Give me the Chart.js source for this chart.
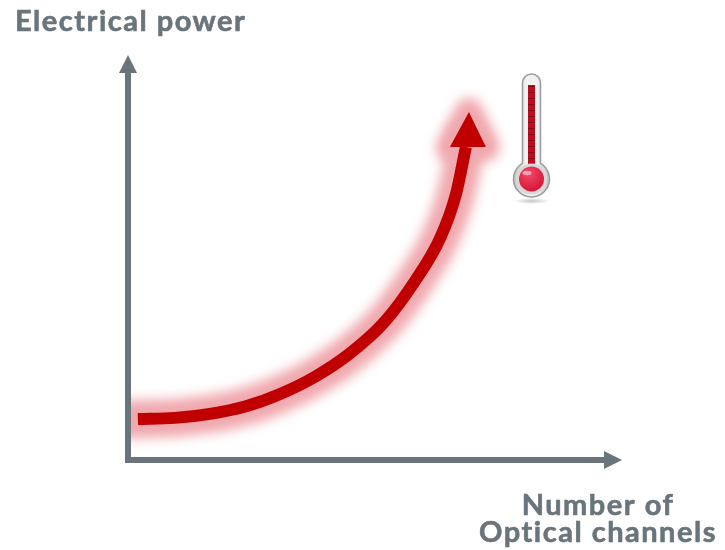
<!DOCTYPE html>
<html>
<head>
<meta charset="utf-8">
<title>Electrical power vs optical channels</title>
<script src="https://cdn.jsdelivr.net/npm/chart.js@4"></script>
<style>
  html, body { margin: 0; padding: 0; background: #fff; }
  #wrap { position: relative; width: 725px; height: 550px; }
  #powerChart { display: block; }
  #thermo { position: absolute; left: 505px; top: 68px; }
</style>
</head>
<body>
<div id="wrap">
  <canvas id="powerChart" width="725" height="550"></canvas>
  <!-- thermometer icon, decoration only -->
  <svg id="thermo" width="52" height="140" viewBox="0 0 52 140">
    <defs>
      <linearGradient id="glass" x1="0" x2="1" y1="0" y2="0">
        <stop offset="0" stop-color="#c4c4c4"/>
        <stop offset="0.35" stop-color="#f2f2f2"/>
        <stop offset="0.65" stop-color="#f2f2f2"/>
        <stop offset="1" stop-color="#c0c0c0"/>
      </linearGradient>
      <radialGradient id="bulb" cx="0.4" cy="0.3" r="0.8">
        <stop offset="0" stop-color="#f4476a"/>
        <stop offset="1" stop-color="#d0102e"/>
      </radialGradient>
      <radialGradient id="shade">
        <stop offset="0" stop-color="#c4c4c4"/>
        <stop offset="1" stop-color="#ffffff"/>
      </radialGradient>
      <pattern id="marks" width="7" height="6" patternUnits="userSpaceOnUse">
        <rect width="7" height="6" fill="#c00d1e"/>
        <rect width="7" height="1" fill="#8c0a16"/>
      </pattern>
    </defs>
    <ellipse cx="26.500" cy="133" rx="18" ry="3" fill="url(#shade)"/>
    <path d="M17.500 15 a9 9 0 0 1 18 0 V95.400 a18 18 0 1 1 -18 0 Z" fill="url(#glass)" stroke="#9c9c9c" stroke-width="1.500"/>
    <rect x="23" y="17" width="7" height="84" fill="url(#marks)"/>
    <circle cx="26.500" cy="111" r="15.500" fill="#d8d8d8"/>
    <circle cx="26.500" cy="111" r="12.500" fill="url(#bulb)"/>
    <ellipse cx="22" cy="105" rx="4.500" ry="2.200" fill="#f9a0b0"/>
  </svg>
</div>
<script>
// Values (both axes have no printed scale, 0-100 is relative)
const channels = [2, 9.5, 16.6, 23.7, 30.8, 37.9, 44.9, 52, 58.1, 63.2, 66.4, 68.4];
const power = [10.1, 10.4, 11.4, 13.2, 16.3, 20.6, 26.3, 34.2, 44.2, 54.8, 65.7, 77.3];
const yTitle = 'Electrical power';
const xTitleLines = ['Number of', 'Optical channels'];

const points = channels.map((c, i) => ({ x: c, y: power[i] }));
const axisColor = '#69747b';
const curveColor = '#c00000';
const glowColor = '#f0a8ae';
const GLOW_INDEX = 1; // Chart.js paints the last dataset first, so the glow goes last

function triangle(ctx, tipX, tipY, baseX1, baseY1, baseX2, baseY2) {
  ctx.beginPath();
  ctx.moveTo(tipX, tipY);
  ctx.lineTo(baseX1, baseY1);
  ctx.lineTo(baseX2, baseY2);
  ctx.closePath();
}

// Pixel position of the curve's end, the arrow head sits on it
function curveEnd(chart) {
  const last = points[points.length - 1];
  return { x: chart.scales.x.getPixelForValue(last.x), y: chart.scales.y.getPixelForValue(last.y) };
}

const decorations = {
  id: 'decorations',
  beforeDatasetsDraw(chart) {
    const { ctx } = chart;
    const end = curveEnd(chart);
    // glow behind the arrow head
    ctx.save();
    ctx.filter = 'blur(6px)';
    ctx.fillStyle = glowColor;
    ctx.strokeStyle = glowColor;
    ctx.lineWidth = 28;
    ctx.lineJoin = 'round';
    triangle(ctx, end.x + 3, end.y - 35, end.x - 16, end.y, end.x + 20, end.y);
    ctx.fill();
    ctx.stroke();
    ctx.restore();
  },
  beforeDatasetDraw(chart, args) {
    if (args.index === GLOW_INDEX) {
      chart.ctx.save();
      chart.ctx.filter = 'blur(6px)';
    }
  },
  afterDatasetDraw(chart, args) {
    if (args.index === GLOW_INDEX) chart.ctx.restore();
  },
  afterDatasetsDraw(chart) {
    const { ctx, chartArea: a } = chart;
    const end = curveEnd(chart);
    ctx.save();
    ctx.fillStyle = curveColor;
    triangle(ctx, end.x + 3, end.y - 35, end.x - 16, end.y, end.x + 20, end.y);
    ctx.fill();

    // axes go over the glow
    ctx.fillStyle = axisColor;
    ctx.fillRect(a.left - 3, a.top + 15, 6, a.bottom - a.top - 12);
    ctx.fillRect(a.left - 3, a.bottom - 3, a.right - a.left - 15, 6);
    triangle(ctx, a.left, a.top, a.left - 9, a.top + 18, a.left + 9, a.top + 18);
    ctx.fill();
    triangle(ctx, a.right, a.bottom, a.right - 18, a.bottom - 9, a.right - 18, a.bottom + 9);
    ctx.fill();

    ctx.font = 'bold 29px Lato';
    ctx.letterSpacing = '1.5px';
    ctx.strokeStyle = axisColor;
    ctx.lineWidth = 0.6;
    ctx.textBaseline = 'alphabetic';
    ctx.textAlign = 'left';
    ctx.fillText(yTitle, 15, 31);
    ctx.strokeText(yTitle, 15, 31);
    ctx.textAlign = 'center';
    ctx.fillText(xTitleLines[0], 598, 515);
    ctx.strokeText(xTitleLines[0], 598, 515);
    ctx.fillText(xTitleLines[1], 598, 542);
    ctx.strokeText(xTitleLines[1], 598, 542);
    ctx.restore();
  }
};

new Chart(document.getElementById('powerChart').getContext('2d'), {
  type: 'line',
  data: {
    datasets: [{
      label: 'Electrical power',
      data: points,
      borderColor: curveColor,
      borderWidth: 12,
      borderCapStyle: 'butt',
      pointRadius: 0,
      cubicInterpolationMode: 'monotone'
    }, {
      label: 'glow',
      data: points,
      borderColor: glowColor,
      borderWidth: 38,
      borderCapStyle: 'square',
      pointRadius: 0,
      cubicInterpolationMode: 'monotone'
    }]
  },
  options: {
    responsive: false,
    animation: false,
    layout: { padding: { left: 128, right: 103, top: 55, bottom: 90 } },
    scales: {
      x: { type: 'linear', min: 0, max: 100, display: false },
      y: { type: 'linear', min: 0, max: 100, display: false }
    },
    plugins: {
      legend: { display: false },
      tooltip: { enabled: false }
    }
  },
  plugins: [decorations]
});
</script>
</body>
</html>
